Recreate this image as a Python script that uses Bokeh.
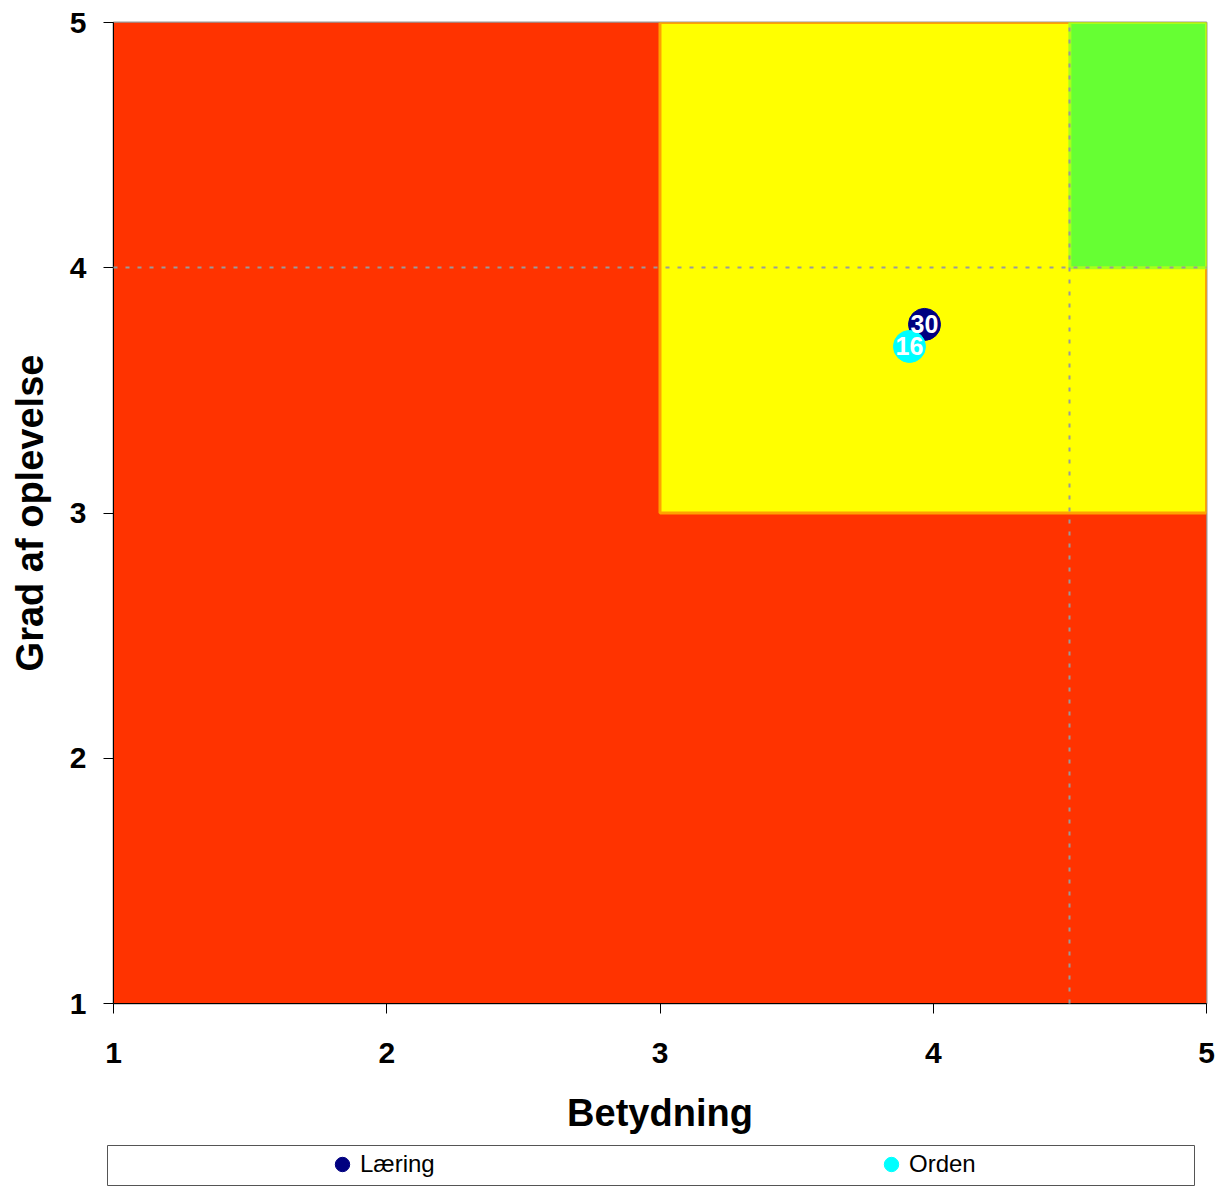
from bokeh.plotting import figure
from bokeh.models import FixedTicker, ColumnDataSource, Legend, LegendItem, Range1d
from bokeh.layouts import column
from bokeh.embed import file_html
from bokeh.resources import INLINE

# ---- data ----
series_names = ["Læring", "Orden"]
series_x = [3.968, 3.913]
series_y = [3.769, 3.679]
series_labels = ["30", "16"]
series_colors = ["#000080", "#00FFFF"]

x_ticks = [1, 2, 3, 4, 5]
y_ticks = [1, 2, 3, 4, 5]
x_title = "Betydning"
y_title = "Grad af oplevelse"

zone_left = [1, 3, 4.5]
zone_right = [5, 5, 5]
zone_bottom = [1, 3, 4]
zone_top = [5, 5, 5]
zone_fill = ["#FF3300", "#FFFF00", "#66FF33"]
zone_line = ["#FF3300", "#FFA200", "#A8FF1A"]
zone_line_alpha = [0, 1, 1]

grid_x = [4.5]
grid_y = [4]

FONT = "Liberation Sans"

p = figure(width=1216, height=1145, x_range=(1, 5), y_range=(1, 5),
           output_backend="svg", toolbar_location=None,
           min_border_left=113, min_border_right=10, min_border_top=22,
           min_border_bottom=142)
p.background_fill_color = "white"
p.border_fill_color = "white"
p.outline_line_color = "#999999"
p.outline_line_width = 2

zones = ColumnDataSource(dict(left=zone_left, right=zone_right, bottom=zone_bottom,
                              top=zone_top, fill=zone_fill, line=zone_line,
                              la=zone_line_alpha))
p.quad(left="left", right="right", bottom="bottom", top="top", source=zones,
       fill_color="fill", line_color="line", line_alpha="la", line_width=3)

for i in range(len(series_names)):
    p.scatter(x=[series_x[i]], y=[series_y[i]], marker="circle", size=32,
              fill_color=series_colors[i], line_color=series_colors[i])

lab_src = ColumnDataSource(dict(x=series_x, y=series_y, t=series_labels))
p.text(x="x", y="y", text="t", source=lab_src, text_align="center",
       text_baseline="middle", text_color="white", text_font_size="25px",
       text_font_style="bold", text_font={"value": FONT})

# grid
p.xgrid.ticker = FixedTicker(ticks=grid_x)
p.ygrid.ticker = FixedTicker(ticks=grid_y)
for g in (p.xgrid[0], p.ygrid[0]):
    g.grid_line_color = "#9A9A9A"
    g.grid_line_dash = "4 8"
    g.grid_line_width = 2
    g.level = "overlay"

# axes
p.xaxis.ticker = FixedTicker(ticks=x_ticks)
p.yaxis.ticker = FixedTicker(ticks=y_ticks)
for ax in (p.xaxis[0], p.yaxis[0]):
    ax.major_tick_out = 10
    ax.major_tick_in = 0
    ax.minor_tick_out = 0
    ax.minor_tick_in = 0
    ax.axis_line_color = "black"
    ax.major_tick_line_color = "black"
    ax.major_label_text_font = FONT
    ax.major_label_text_font_size = "30px"
    ax.major_label_text_font_style = "bold"
    ax.major_label_text_color = "black"
    ax.axis_label_text_font = FONT
    ax.axis_label_text_font_size = "38px"
    ax.axis_label_text_font_style = "bold"
    ax.axis_label_text_color = "black"
p.xaxis.axis_label = x_title
p.yaxis.axis_label = y_title
p.xaxis.major_label_standoff = 29
p.xaxis.axis_label_standoff = 26
p.yaxis.major_label_standoff = 17
p.yaxis.axis_label_standoff = 16

# ---- legend strip ----
q = figure(width=1210, height=41, output_backend="svg", toolbar_location=None,
           x_axis_type=None, y_axis_type=None, min_border=0,
           x_range=Range1d(0, 1), y_range=Range1d(0, 1),
           margin=(0, 0, 0, -6))
q.outline_line_color = "#555555"
q.outline_line_width = 1
q.grid.visible = False
q.background_fill_color = "white"
q.border_fill_color = "white"

leg_pos = [(217, 4), (766, 4)]
for i in range(len(series_names)):
    r = q.scatter(x=[series_x[i]], y=[series_y[i]], marker="circle", size=15,
                  fill_color=series_colors[i], line_color=series_colors[i])
    leg = Legend(items=[LegendItem(label=series_names[i], renderers=[r])],
                 location=leg_pos[i], glyph_width=36, glyph_height=36,
                 label_standoff=0, padding=0, margin=0,
                 border_line_color=None, background_fill_alpha=0,
                 label_text_font=FONT, label_text_font_size="24px",
                 label_text_color="black")
    q.add_layout(leg)

layout = column(p, q, spacing=0)
open("out.html", "w").write(file_html(layout, INLINE))
